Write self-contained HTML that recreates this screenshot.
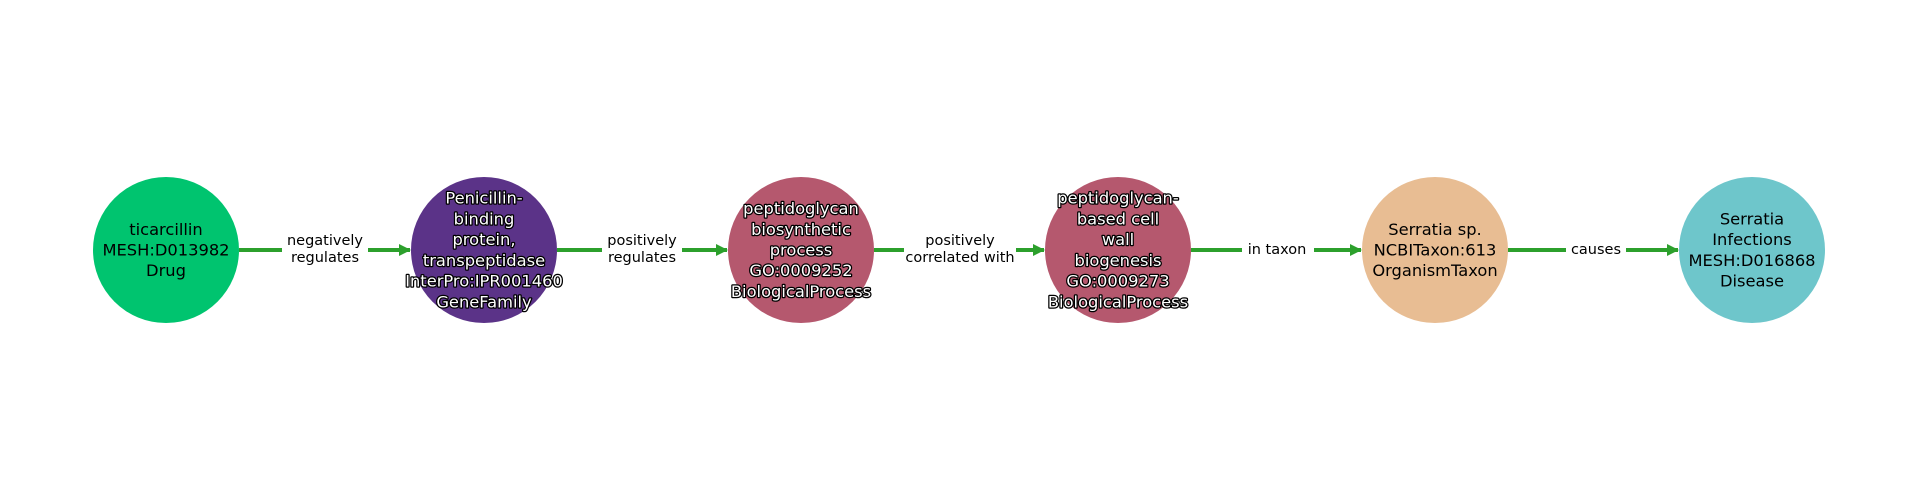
<!DOCTYPE html>
<html><head><meta charset="utf-8"><style>
html,body{margin:0;padding:0;background:#fff;}
svg{display:block;}
text{font-family:"DejaVu Sans","Liberation Sans",sans-serif;}
.n{font-size:16.3px;text-anchor:middle;dominant-baseline:central;fill:#000;}
.w{fill:#fff;stroke:#000;stroke-width:2.5px;paint-order:stroke;stroke-linejoin:round;}
.e{font-size:14.5px;text-anchor:middle;dominant-baseline:central;fill:#000;}
</style></head><body>
<svg width="1920" height="500" viewBox="0 0 1920 500" xmlns="http://www.w3.org/2000/svg">
<defs><marker id="a" markerWidth="12" markerHeight="12" refX="11" refY="6" orient="auto" markerUnits="userSpaceOnUse"><path d="M0,0 L12,6 L0,12 z" fill="#2ca02c"/></marker></defs>
<g stroke="#2ca02c" stroke-width="4" fill="none" marker-end="url(#a)">
<line x1="239" y1="250" x2="410" y2="250"/>
<line x1="557" y1="250" x2="727" y2="250"/>
<line x1="874" y1="250" x2="1044" y2="250"/>
<line x1="1191" y1="250" x2="1361" y2="250"/>
<line x1="1508" y1="250" x2="1678" y2="250"/>
</g>
<g fill="#fff">
<rect x="282" y="232" width="86" height="36"/>
<rect x="602" y="232" width="80" height="36"/>
<rect x="904" y="232" width="112" height="36"/>
<rect x="1242" y="241" width="72" height="18"/>
<rect x="1566" y="241" width="60" height="18"/>
</g>
<text class="e" x="325" y="241">negatively</text><text class="e" x="325" y="258">regulates</text>
<text class="e" x="642" y="241">positively</text><text class="e" x="642" y="258">regulates</text>
<text class="e" x="960" y="241">positively</text><text class="e" x="960" y="258">correlated with</text>
<text class="e" x="1277" y="250">in taxon</text>
<text class="e" x="1596" y="250">causes</text>
<circle cx="166" cy="250" r="73" fill="#00c46f"/>
<circle cx="484" cy="250" r="73" fill="#5b3388"/>
<circle cx="801" cy="250" r="73" fill="#b5586e"/>
<circle cx="1118" cy="250" r="73" fill="#b5586e"/>
<circle cx="1435" cy="250" r="73" fill="#e8bd93"/>
<circle cx="1752" cy="250" r="73" fill="#6ec6cb"/>
<text class="n" x="166" y="229.5">ticarcillin</text><text class="n" x="166" y="250">MESH:D013982</text><text class="n" x="166" y="270.5">Drug</text>
<g>
<text class="n w" x="484" y="198">Penicillin-</text><text class="n w" x="484" y="219">binding</text><text class="n w" x="484" y="239.5">protein,</text><text class="n w" x="484" y="260.5">transpeptidase</text><text class="n w" x="484" y="281">InterPro:IPR001460</text><text class="n w" x="484" y="302">GeneFamily</text>
<text class="n w" x="801" y="208.5">peptidoglycan</text><text class="n w" x="801" y="229.5">biosynthetic</text><text class="n w" x="801" y="250">process</text><text class="n w" x="801" y="270.5">GO:0009252</text><text class="n w" x="801" y="291.5">BiologicalProcess</text>
<text class="n w" x="1118" y="198">peptidoglycan-</text><text class="n w" x="1118" y="219">based cell</text><text class="n w" x="1118" y="239.5">wall</text><text class="n w" x="1118" y="260.5">biogenesis</text><text class="n w" x="1118" y="281">GO:0009273</text><text class="n w" x="1118" y="302">BiologicalProcess</text>
</g>
<text class="n" x="1435" y="229.5">Serratia sp.</text><text class="n" x="1435" y="250">NCBITaxon:613</text><text class="n" x="1435" y="270.5">OrganismTaxon</text>
<text class="n" x="1752" y="219">Serratia</text><text class="n" x="1752" y="239.5">Infections</text><text class="n" x="1752" y="260.5">MESH:D016868</text><text class="n" x="1752" y="281">Disease</text>
</svg>
</body></html>
